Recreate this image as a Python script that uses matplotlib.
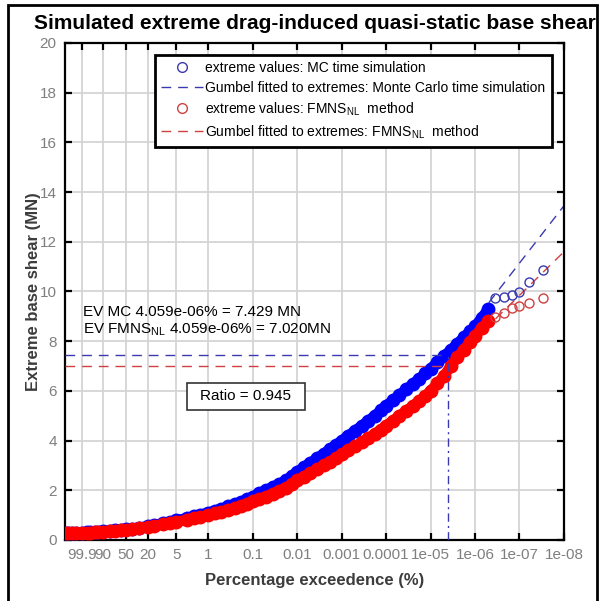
import numpy as np
import matplotlib
matplotlib.use('Agg')
import matplotlib.pyplot as plt
from matplotlib.patches import Rectangle
from matplotlib.lines import Line2D

plt.rcParams['font.family'] = ['Liberation Sans', 'DejaVu Sans']
plt.rcParams['mathtext.fontset'] = 'custom'
plt.rcParams['mathtext.rm'] = 'Liberation Sans'
plt.rcParams['mathtext.it'] = 'Liberation Sans:italic'
plt.rcParams['mathtext.bf'] = 'Liberation Sans:bold'

# x axis ticks (percentage exceedence)
tick_exc = [99.9, 90, 50, 20, 5, 1, 0.1, 0.01, 0.001, 0.0001, 1e-05, 1e-06, 1e-07, 1e-08]
tick_lbl = ['99.9', '90', '50', '20', '5', '1', '0.1', '0.01', '0.001', '0.0001',
            '1e-05', '1e-06', '1e-07', '1e-08']

# dense part of the extremes (exceedence %, base shear MN)
exc_dense = [99.9999993, 99.99999, 99.9999, 99.999, 99.99, 99.9, 99.5, 99, 97, 95, 90, 80, 70, 60,
             50, 40, 30, 20, 15, 10, 7, 5, 3, 2, 1.5, 1,
             0.7, 0.5, 0.35, 0.25, 0.18, 0.13, 0.1,
             0.07, 0.05, 0.035, 0.025, 0.018, 0.013, 0.01,
             7e-3, 5e-3, 3.5e-3, 2.5e-3, 1.8e-3, 1.3e-3, 1e-3,
             7e-4, 5e-4, 3.5e-4, 2.5e-4, 1.8e-4, 1.3e-4, 1e-4,
             7e-5, 5e-5, 3.5e-5, 2.5e-5, 1.8e-5, 1.3e-5, 1e-5,
             7e-6, 5e-6, 3.5e-6, 2.5e-6, 1.8e-6, 1.3e-6, 1e-6,
             7e-7, 5e-7]
mc_dense = [0.28, 0.28, 0.29, 0.29, 0.30, 0.30, 0.31, 0.32, 0.33, 0.34, 0.35, 0.37, 0.39, 0.41,
            0.43, 0.46, 0.50, 0.56, 0.60, 0.67, 0.73, 0.79, 0.88, 0.96, 1.02, 1.10,
            1.18, 1.26, 1.35, 1.44, 1.54, 1.64, 1.75,
            1.88, 2.00, 2.13, 2.26, 2.40, 2.56, 2.75,
            2.93, 3.11, 3.30, 3.48, 3.66, 3.84, 4.00,
            4.20, 4.40, 4.60, 4.80, 5.00, 5.22, 5.40,
            5.62, 5.84, 6.06, 6.28, 6.48, 6.70, 6.90,
            7.15, 7.40, 7.65, 7.90, 8.15, 8.40, 8.60,
            8.95, 9.30]
fm_dense = [0.27, 0.27, 0.27, 0.28, 0.28, 0.29, 0.30, 0.30, 0.31, 0.32, 0.33, 0.35, 0.37, 0.39,
            0.41, 0.44, 0.48, 0.53, 0.57, 0.63, 0.68, 0.73, 0.81, 0.88, 0.93, 1.00,
            1.07, 1.14, 1.21, 1.29, 1.37, 1.46, 1.55,
            1.65, 1.75, 1.86, 1.98, 2.10, 2.24, 2.40,
            2.55, 2.70, 2.85, 3.00, 3.15, 3.30, 3.45,
            3.61, 3.77, 3.93, 4.10, 4.27, 4.44, 4.60,
            4.80, 5.00, 5.20, 5.40, 5.60, 5.80, 6.00,
            6.30, 6.60, 7.00, 7.35, 7.65, 7.95, 8.20,
            8.55, 8.80]

# largest extremes, drawn as single circles
exc_tail = [3.5e-7, 2.2e-7, 1.5e-7, 1.0e-7, 6.0e-8, 2.9e-8]
mc_tail = [9.74, 9.78, 9.86, 9.98, 10.38, 10.87]
fm_tail = [8.97, 9.13, 9.34, 9.42, 9.55, 9.74]

# fitted Gumbel lines and design values
ev_exc = 4.059e-06
ev_mc = 7.429
ev_fm = 7.020
fit_exc = [ev_exc, 1e-08]
fit_mc = [ev_mc, 13.45]
fit_fm = [ev_fm, 11.60]
ratio = 0.945


def gumbel_fwd(p):
    p = np.asarray(p, dtype=float)
    with np.errstate(all='ignore'):
        return -np.log(-np.log1p(-p / 100.0))


def gumbel_inv(x):
    x = np.asarray(x, dtype=float)
    with np.errstate(all='ignore'):
        return -100.0 * np.expm1(-np.exp(-x))


blue = '#0000ff'
red = '#ff0000'
blue_ln = '#3a3ab0'
red_ln = '#d04040'

fig = plt.figure(figsize=(6.05, 6.01), dpi=100)
ax = fig.add_axes([0.1074, 0.1015, 0.8248, 0.827])
ax.set_xscale('function', functions=(gumbel_fwd, gumbel_inv))

x_left = float(gumbel_inv(-2.8))
# transform is decreasing, so limits are given low-to-high in data units
ax.set_xlim(1e-08, x_left)
ax.set_ylim(0, 20)

ax.plot(exc_dense, mc_dense, '-o', lw=7.5, ms=9, color=blue, mfc=blue, mec=blue, mew=1,
        solid_capstyle='round', zorder=3)
ax.plot(exc_tail, mc_tail, 'o', ms=6.5, mfc='none', mec=blue_ln, mew=1, zorder=3)
ax.plot(fit_exc, fit_mc, color=blue_ln, lw=1, dashes=(7, 5), zorder=2)
ax.plot(exc_dense, fm_dense, '-o', lw=7.5, ms=9, color=red, mfc=red, mec=red, mew=1,
        solid_capstyle='round', zorder=4)
ax.plot(exc_tail, fm_tail, 'o', ms=6.5, mfc='none', mec=red_ln, mew=1, zorder=4)
ax.plot(fit_exc, fit_fm, color=red_ln, lw=1, dashes=(7, 5), zorder=2)

# design value guide lines
ax.plot([x_left, ev_exc], [ev_mc, ev_mc], color=blue_ln, lw=1, dashes=(7, 5), zorder=5)
ax.plot([x_left, ev_exc], [ev_fm, ev_fm], color=red_ln, lw=1, dashes=(7, 5), zorder=5)
ax.plot([ev_exc, ev_exc], [0, ev_mc], color=blue_ln, lw=1, dashes=(6, 3, 1.5, 3), zorder=5)

ax.xaxis.set_major_locator(matplotlib.ticker.FixedLocator(tick_exc))
ax.xaxis.set_minor_locator(matplotlib.ticker.NullLocator())
ax.set_xticks(tick_exc)
ax.set_xticklabels(tick_lbl)
ax.set_xlim(1e-08, x_left)
ax.set_yticks(np.arange(0, 21, 2))
ax.tick_params(direction='in', length=5, width=1.6, colors='black', labelcolor='#7f7f7f',
               labelsize=11, top=True, right=True, pad=6)
ax.grid(True, color='#d4d4d4', lw=1.3)
ax.set_axisbelow(True)
for s in ax.spines.values():
    s.set_linewidth(1.6)
    s.set_color('black')

ax.set_title('Simulated extreme drag-induced quasi-static base shear', fontsize=15,
             fontweight='bold', pad=10)
ax.set_xlabel('Percentage exceedence (%)', fontsize=12, fontweight='bold', color='#3c3c3c',
              labelpad=8)
ax.set_ylabel('Extreme base shear (MN)', fontsize=12, fontweight='bold', color='#3c3c3c',
              labelpad=-1)

handles = [Line2D([], [], ls='none', marker='o', ms=7, mfc='none', mec=blue_ln),
           Line2D([], [], color=blue_ln, lw=1, dashes=(7, 5)),
           Line2D([], [], ls='none', marker='o', ms=7, mfc='none', mec=red_ln),
           Line2D([], [], color=red_ln, lw=1, dashes=(7, 5))]
labels = ['extreme values: MC time simulation',
          'Gumbel fitted to extremes: Monte Carlo time simulation',
          'extreme values: FMNS$_{\\rm NL}$  method',
          'Gumbel fitted to extremes: FMNS$_{\\rm NL}$  method']
leg = ax.legend(handles, labels, loc='upper left', bbox_to_anchor=(0.18, 0.976),
                borderaxespad=0, fontsize=10, handlelength=3.0, handletextpad=0.2,
                labelspacing=0.4, borderpad=0.45, fancybox=False, framealpha=1,
                edgecolor='black')
leg.get_frame().set_linewidth(2)
leg.set_zorder(10)

ax.text(0.036, 0.459, 'EV MC 4.059e-06% = 7.429 MN', transform=ax.transAxes,
        fontsize=11, va='center', zorder=6)
ax.text(0.036, 0.4225, 'EV FMNS$_{\\rm NL}$ 4.059e-06% = 7.020MN', transform=ax.transAxes,
        fontsize=11, va='center', zorder=6)

ax.add_patch(Rectangle((0.2445, 0.2616), 0.2365, 0.0543, transform=ax.transAxes,
                       fc='white', ec='#333333', lw=1.2, zorder=6))
ax.text(0.2445 + 0.2365 / 2, 0.2616 + 0.0543 / 2, 'Ratio = %.3f' % ratio,
        transform=ax.transAxes, ha='center', va='center', fontsize=11, zorder=7)

# border of the screenshot
fig.add_artist(Rectangle((0.013, -0.05), 0.974, 1.042, transform=fig.transFigure,
                         fill=False, ec='black', lw=2))

fig.savefig('out.png', dpi=100)
